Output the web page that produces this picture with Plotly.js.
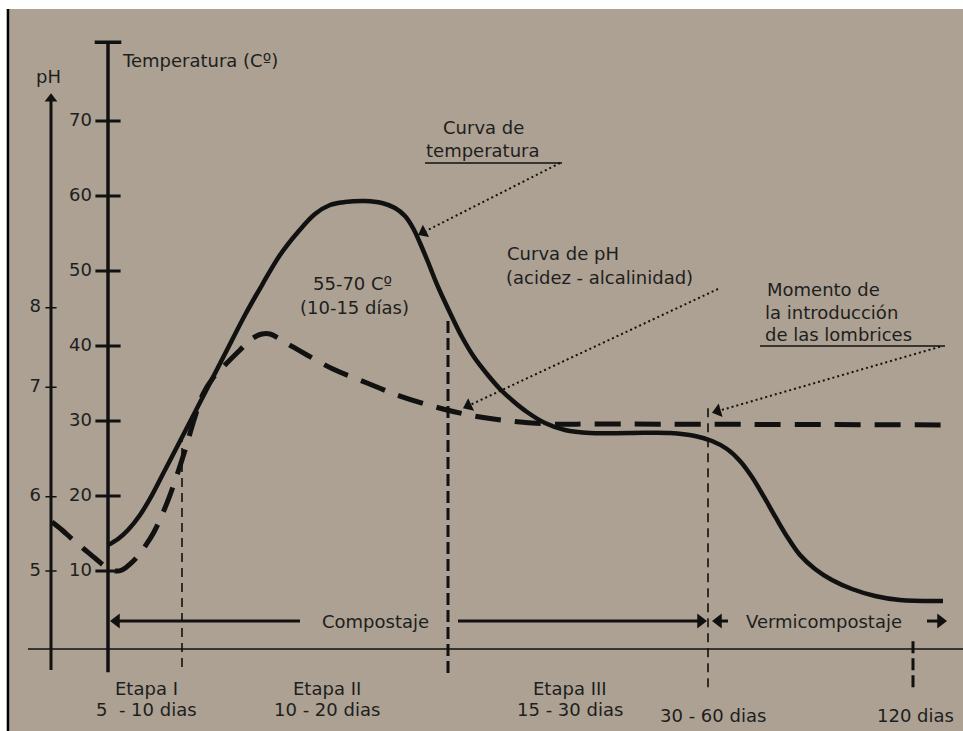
<!DOCTYPE html>
<html><head><meta charset="utf-8">
<script src="https://cdn.plot.ly/plotly-3.0.1.min.js"></script>
<style>html,body{margin:0;padding:0;background:#fff}#chart{width:963px;height:731px}</style>
</head><body><div id="chart"></div>
<script>
// Horizontal: schematic time units (temperature axis at 0). Vertical: temperature scale (°C).
const tempCurveTime = [0,1.0,2.0,3.2,4.4,5.7,7.0,8.5,10.2,12.0,13.7,15.4,17.2,19.0,20.7,22.2,23.7,25.7,27.4,28.7,29.7,30.5,31.2,32.0,32.8,33.6,34.4,35.4,36.6,37.9,39.2,40.5,41.9,43.7,45.7,48.2,52.2,56.2,58.7,60.4,61.9,63.2,64.4,65.6,66.8,68.0,69.2,70.7,72.4,74.4,76.7,79.2,83.5];
const tempCurveC    = [13.47,14.27,15.47,17.47,20.13,23.47,26.8,30.67,35.07,39.73,44.13,48.13,52.13,55.2,57.6,58.8,59.2,59.33,59.07,58.4,57.33,55.73,53.73,51.2,48.53,46.13,43.87,41.2,38.53,36.27,34.27,32.67,31.2,29.73,28.8,28.4,28.4,28.4,28.0,27.33,26.27,24.67,22.53,19.87,17.07,14.4,12.13,10.27,8.8,7.6,6.67,6.13,6.0];

const phCurveTime  = [-5.6,-4.6,-3.6,-2.4,-1.2,-0.2,0.7,1.4,2.2,3.0,3.8,4.6,5.4,6.2,7.0,7.8,8.6,9.5,10.5,11.6,13.2,14.5,15.4,16.2,17.2,18.5,19.9,22.5,25.9,29.2,33.5,37.2,40.2,44.2,49.2,84.5];
const phCurveLevel = [16.53,15.47,14.27,12.93,11.6,10.53,10.0,10.13,10.93,12.0,13.47,15.2,17.47,20.13,23.2,26.53,30.13,33.6,35.73,37.33,39.47,41.07,41.6,41.6,40.93,39.87,38.8,36.93,35.07,33.33,31.6,30.53,30.0,29.6,29.6,29.47];

const tempTicks = [10,20,30,40,50,60,70];
const phTickLabels = ['5','6','7','8'];
const phTickLevel = [10,19.9,34.5,45.1];

const boundaryTime   = [7.4, 34.0, 60.0, 80.5];
const boundaryTop    = [27.5, 43.5, 32.5, 1.3];
const boundaryBottom = [-2.8, -3.6, -5.5, -5.5];

const stageNames = ['Etapa I','Etapa II','Etapa III'];
const stageDays  = ['5  - 10 dias','10 - 20 dias','15 - 30 dias'];
const stageMid   = [3.8, 21.9, 46.2];
const milestoneLabels = ['30 - 60 dias','120 dias'];
const milestoneTime   = [60.5, 80.7];
const phaseNames = ['Compostaje','Vermicompostaje'];
const phaseMid   = [26.7, 71.6];

const INK = '#111111';
const TXT = '#1e1e1e';
const FONT = 'DejaVu Sans, Arial, sans-serif';
const AX_T = 0, AX_PH = -5.7, BASE = -0.4, PHASE_Y = 3.33;

const traces = [];
function line(xs, ys, w, dash, shape) {
  return {type:'scatter', mode:'lines', x:xs, y:ys, cliponaxis:false, hoverinfo:'skip',
    line:{color:INK, width:w, dash:dash||'solid', shape:shape||'linear', smoothing:1}};
}
function arrow(xs, ys, w, dash, head) {
  const t = line(xs, ys, w, dash);
  t.mode = 'lines+markers';
  t.line.backoff = head * 0.5;
  t.marker = {symbol:'triangle-up', angleref:'previous', standoff: head * 0.5, color:INK, opacity:1,
    line:{width:0}, size: xs.map((_, i) => i === xs.length - 1 ? head : 0)};
  return t;
}

// baseline
traces.push(line([-8.0, 85.5], [BASE, BASE], 1.6));
// axes
traces.push(arrow([AX_PH, AX_PH], [-3.2, 73.7], 3, 'solid', 11));
traces.push(line([AX_T, AX_T], [-3.5, 80.5], 3.5));
traces.push({type:'scatter', mode:'markers', x:[AX_T], y:[80.5], cliponaxis:false, hoverinfo:'skip',
  marker:{symbol:'line-ew', size:19, line:{color:INK, width:3.5}}});
// temperature ticks + labels
traces.push({type:'scatter', mode:'markers', x:tempTicks.map(()=>AX_T), y:tempTicks, cliponaxis:false, hoverinfo:'skip',
  marker:{symbol:'line-ew', size:18, line:{color:INK, width:3}}});
traces.push({type:'scatter', mode:'text', x:tempTicks.map(()=>-1.6), y:tempTicks, text:tempTicks.map(String),
  textposition:'middle left', cliponaxis:false, hoverinfo:'skip', textfont:{family:FONT, size:18, color:TXT}});
// pH ticks + labels
traces.push({type:'scatter', mode:'markers', x:phTickLevel.map(()=>AX_PH), y:phTickLevel, cliponaxis:false, hoverinfo:'skip',
  marker:{symbol:'line-ew', size:8, line:{color:INK, width:1.5}}});
traces.push({type:'scatter', mode:'text', x:phTickLevel.map(()=>-6.7), y:phTickLevel, text:phTickLabels,
  textposition:'middle left', cliponaxis:false, hoverinfo:'skip', textfont:{family:FONT, size:18, color:TXT}});

// stage boundaries
boundaryTime.forEach((t, i) => {
  const heavy = (i % 2 === 1);
  traces.push(line([t, t], [boundaryBottom[i], boundaryTop[i]], heavy ? 3 : 1.6, heavy ? '12px,5px' : '9px,6px'));
});

// pH curve and temperature curve
traces.push(line(phCurveTime, phCurveLevel, 5, '26px,14px', 'spline'));
traces.push(line(tempCurveTime, tempCurveC, 4.5, 'solid', 'spline'));

// phase arrows
traces.push(arrow([19.2, 0.2], [PHASE_Y, PHASE_Y], 3, 'solid', 13));
traces.push(arrow([35.0, 59.9], [PHASE_Y, PHASE_Y], 3, 'solid', 13));
traces.push(arrow([62.0, 60.4], [PHASE_Y, PHASE_Y], 3, 'solid', 13));
traces.push(arrow([81.9, 83.9], [PHASE_Y, PHASE_Y], 3, 'solid', 13));

// callouts: underlines + dotted arrows
traces.push(line([31.7, 45.4], [64.4, 64.4], 1.6));
traces.push(arrow([45.2, 31.0], [64.4, 54.8], 2, '2px,3px', 12));
traces.push(arrow([61.0, 35.5], [47.6, 31.7], 2, '2px,3px', 12));
traces.push(line([65.2, 83.7], [40.0, 40.0], 1.6));
traces.push(arrow([83.2, 60.4], [39.9, 31.1], 2, '2px,3px', 12));

const ann = [];
function txt(x, y, s, anchor) {
  ann.push({x:x, y:y, xref:'x', yref:'y', text:s, showarrow:false, xanchor:anchor||'center', yanchor:'middle',
    font:{family:FONT, size:18, color:TXT}});
}
txt(1.2, 78.1, 'Temperatura (Cº)', 'left');
txt(-6.0, 75.9, 'pH');
txt(37.5, 69.2, 'Curva de');
txt(37.5, 66.1, 'temperatura');
txt(24.4, 48.4, '55-70 Cº');
txt(24.6, 45.2, '(10-15 días)');
txt(39.7, 52.3, 'Curva de pH', 'left');
txt(39.6, 49.2, '(acidez - alcalinidad)', 'left');
txt(65.7, 47.6, 'Momento de', 'left');
txt(65.5, 44.5, 'la introducción', 'left');
txt(65.5, 41.5, 'de las lombrices', 'left');
phaseNames.forEach((s, i) => txt(phaseMid[i], PHASE_Y, s));
stageNames.forEach((s, i) => { txt(stageMid[i], -5.6, s); txt(stageMid[i], -8.5, stageDays[i]); });
milestoneLabels.forEach((s, i) => txt(milestoneTime[i], -9.2, s));

const layout = {
  width:963, height:731, autosize:false,
  margin:{l:9, r:0, t:9, b:0, pad:0},
  paper_bgcolor:'#ffffff', plot_bgcolor:'#ACA192',
  showlegend:false, hovermode:false,
  xaxis:{range:[-9.9, 85.5], visible:false, fixedrange:true},
  yaxis:{range:[-11.333, 84.933], visible:false, fixedrange:true},
  annotations: ann,
  shapes:[{type:'line', xref:'paper', yref:'paper', x0:-0.0011, x1:-0.0011, y0:0, y1:1, line:{color:'#000', width:2.5}}]
};
Plotly.newPlot('chart', traces, layout, {staticPlot:true, displayModeBar:false});
</script>
</body></html>
